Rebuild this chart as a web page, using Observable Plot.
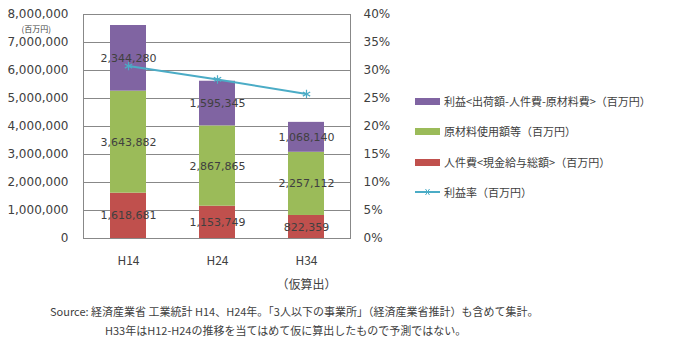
<!DOCTYPE html>
<html><head><meta charset="utf-8">
<script src="https://cdn.jsdelivr.net/npm/d3@7"></script>
<script src="https://cdn.jsdelivr.net/npm/@observablehq/plot@0.6"></script>
<style>
body{margin:0;background:#fff;font-family:"Noto Sans CJK JP","Noto Sans",sans-serif;color:#404040}
#wrap{position:relative;width:675px;height:358px;overflow:hidden}
#chart{position:absolute;left:0;top:0}
.leg{position:absolute;left:415px;font-size:11px;display:flex;align-items:center;white-space:nowrap;color:#404040}
.sw{width:25px;height:7px;margin-right:4px}
.cap{position:absolute;font-size:11px;white-space:nowrap;color:#404040}
</style></head><body>
<div id="wrap"><div id="chart"></div></div>
<script>
const years = ["H14", "H24", "H34"];
const yearLabels = ["H14", "H24", "H34\n（仮算出）"];
const seriesNames = ["人件費<現金給与総額>（百万円）", "原材料使用額等（百万円）", "利益<出荷額-人件費-原材料費>（百万円）"];
const labor = [1618681, 1153749, 822359];
const material = [3643882, 2867865, 2257112];
const profit = [2344280, 1595345, 1068140];
const profitRate = [30.8, 28.4, 25.8]; // %
const lineName = "利益率（百万円）";
const leftTicks = [0,1000000,2000000,3000000,4000000,5000000,6000000,7000000,8000000];
const colors = ["#C0504D", "#9BBB59", "#8064A2"];
const lineColor = "#4BACC6";

const Y_MAX = 8000000, PCT_MAX = 40;
const rows = [];
[labor, material, profit].forEach((arr, si) => arr.forEach((v, i) => rows.push({year: years[i], series: seriesNames[si], value: v})));
const rateRows = years.map((y, i) => ({year: y, rate: profitRate[i], yv: profitRate[i] / PCT_MAX * Y_MAX}));

const plot = Plot.plot({
  width: 675, height: 300,
  marginLeft: 83, marginRight: 325, marginTop: 14, marginBottom: 62,
  style: {fontFamily: "DejaVu Sans", fontSize: "12px", color: "#404040", background: "transparent"},
  x: {domain: years, paddingInner: 0.6, paddingOuter: 0.3, label: null},
  y: {domain: [0, Y_MAX], label: null},
  color: {domain: seriesNames, range: colors},
  marks: [
    Plot.gridY(leftTicks, {stroke: "#888", strokeOpacity: 1}),
    Plot.barY(rows, {x: "year", y: "value", fill: "series", order: seriesNames}),
    Plot.text(rows, Plot.stackY({x: "year", y: "value", z: "series", order: seriesNames, text: d => d3.format(",")(d.value), fill: "#404040", fontSize: 11, fontFamily: "DejaVu Sans"})),
    Plot.line(rateRows, {x: "year", y: "yv", stroke: lineColor, strokeWidth: 2}),
    Plot.dot(rateRows, {x: "year", y: "yv", symbol: "asterisk", r: 4, stroke: lineColor, strokeWidth: 1.2}),
    Plot.frame({stroke: "#888"}),
    Plot.axisY(leftTicks, {anchor: "left", tickSize: 0, tickPadding: 15, tickFormat: d3.format(","), fontSize: 12, fill: "#404040", label: null}),
    Plot.axisY(leftTicks, {anchor: "right", tickSize: 0, tickPadding: 13, tickFormat: d => Math.round(d / Y_MAX * PCT_MAX) + "%", fontSize: 12, fill: "#404040", label: null}),
    Plot.axisX({tickSize: 0, tickPadding: 9, tickFormat: (d, i) => yearLabels[years.indexOf(d)], lineHeight: 2, fontFamily: "Noto Sans CJK JP", fontSize: 12, fill: "#404040", label: null}),
    Plot.text(["(百万円)"], {frameAnchor: "top-left", dx: -62, dy: 12, fontSize: 8, fill: "#404040", fontFamily: "Noto Sans CJK JP", textAnchor: "start"})
  ]
});
document.getElementById("chart").appendChild(plot);

const wrap = document.getElementById("wrap");
const legendItems = [
  {name: seriesNames[2], color: colors[2], top: 93},
  {name: seriesNames[1], color: colors[1], top: 123},
  {name: seriesNames[0], color: colors[0], top: 154},
  {name: lineName, color: lineColor, top: 184, line: true}
];
legendItems.forEach(it => {
  const d = document.createElement("div");
  d.className = "leg";
  d.style.top = it.top + "px";
  if (it.line) {
    d.innerHTML = `<svg width="25" height="14" style="margin-right:4px"><line x1="0" y1="7" x2="25" y2="7" stroke="${it.color}" stroke-width="2"/><g stroke="${it.color}" stroke-width="1"><line x1="9" y1="7" x2="16" y2="7"/><line x1="10.5" y1="4" x2="14.5" y2="10"/><line x1="14.5" y1="4" x2="10.5" y2="10"/></g></svg>`;
  } else {
    d.innerHTML = `<div class="sw" style="background:${it.color}"></div>`;
  }
  const s = document.createElement("span");
  s.textContent = it.name;
  d.appendChild(s);
  wrap.appendChild(d);
});
const captions = [
  {text: "Source: 経済産業省 工業統計 H14、H24年。「3人以下の事業所」（経済産業省推計）も含めて集計。", left: 50, top: 303},
  {text: "H33年はH12-H24の推移を当てはめて仮に算出したもので予測ではない。", left: 105, top: 322}
];
captions.forEach(c => {
  const d = document.createElement("div");
  d.className = "cap";
  d.style.left = c.left + "px";
  d.style.top = c.top + "px";
  d.textContent = c.text;
  wrap.appendChild(d);
});
</script></body></html>
